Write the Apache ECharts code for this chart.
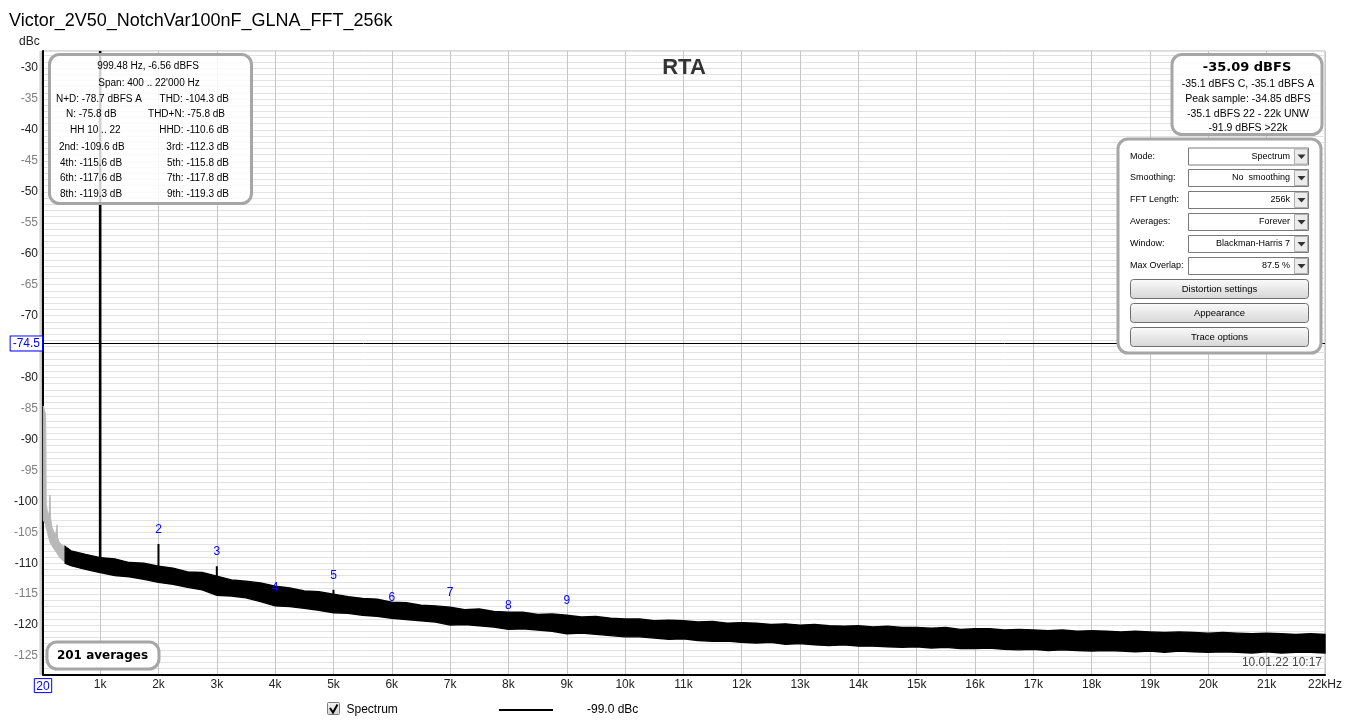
<!DOCTYPE html>
<html>
<head>
<meta charset="utf-8">
<script src="https://cdn.jsdelivr.net/npm/echarts@6/dist/echarts.min.js"></script>
<style>
html,body{margin:0;padding:0;background:#fff;}
#chart{width:1346px;height:724px;}
</style>
</head>
<body>
<div id="chart"></div>
<script>
// ---------- DATA ----------
const TITLE = 'Victor_2V50_NotchVar100nF_GLNA_FFT_256k';
const X_TICKS = [20,1000,2000,3000,4000,5000,6000,7000,8000,9000,10000,11000,12000,13000,14000,15000,16000,17000,18000,19000,20000,21000,22000];
const X_MIN = 20, X_MAX = 22000;
const Y_MIN = -128, Y_MAX = -27.25;
const REF_LEVEL = -74.5;

// noise floor envelope (Hz, dBc)
const FREQ = [400,500,750,1000,1250,1500,1750,2000,2250,2500,
  2750,3000,3250,3500,3750,4000,4250,4500,4750,5000,
  5250,5500,5750,6000,6250,6500,6750,7000,7250,7500,
  7750,8000,8250,8500,8750,9000,9250,9500,9750,10000,
  10250,10500,10750,11000,11250,11500,11750,12000,12250,12500,
  12750,13000,13250,13500,13750,14000,14250,14500,14750,15000,
  15250,15500,15750,16000,16250,16500,16750,17000,17250,17500,
  17750,18000,18250,18500,18750,19000,19250,19500,19750,20000,
  20250,20500,20750,21000,21250,21500,21750,22000];
const UPPER = [-107.3,-108.0,-108.6,-109.1,-109.3,-109.9,-110.0,-110.5,-110.8,-111.4,
  -111.5,-112.1,-112.7,-112.9,-113.2,-113.7,-114.0,-114.5,-114.6,-115.0,
  -115.4,-115.7,-115.8,-116.3,-116.4,-116.8,-116.9,-117.1,-117.5,-117.4,
  -117.8,-117.9,-117.9,-118.3,-118.2,-118.4,-118.7,-118.6,-118.9,-119.0,
  -119.0,-119.3,-119.2,-119.3,-119.5,-119.4,-119.7,-119.6,-119.7,-119.9,
  -119.8,-120.0,-119.9,-120.1,-120.2,-120.1,-120.3,-120.2,-120.4,-120.4,
  -120.5,-120.4,-120.7,-120.6,-120.6,-120.8,-120.7,-120.8,-120.9,-120.8,
  -121.0,-120.9,-121.0,-121.1,-121.0,-121.1,-121.2,-121.1,-121.2,-121.3,
  -121.2,-121.3,-121.4,-121.3,-121.4,-121.5,-121.4,-121.5];
const LOWER = [-110.0,-110.4,-111.0,-111.5,-112.0,-112.2,-112.6,-113.1,-113.4,-113.9,
  -114.3,-115.2,-115.3,-115.6,-116.2,-116.9,-117.0,-117.3,-117.6,-118.0,
  -118.1,-118.4,-118.6,-118.9,-119.1,-119.3,-119.5,-120.0,-119.9,-120.1,
  -120.3,-120.7,-120.6,-120.8,-121.0,-121.4,-121.3,-121.5,-121.7,-121.9,
  -121.9,-122.1,-122.3,-122.2,-122.5,-122.6,-122.6,-122.8,-122.9,-122.8,
  -123.1,-123.0,-123.2,-123.3,-123.2,-123.4,-123.4,-123.5,-123.6,-123.5,
  -123.7,-123.6,-123.8,-123.8,-123.7,-123.9,-124.0,-123.9,-124.1,-124.0,
  -124.1,-124.2,-124.1,-124.2,-124.3,-124.2,-124.4,-124.2,-124.3,-124.4,
  -124.3,-124.4,-124.5,-124.3,-124.5,-124.4,-124.4,-124.5];

// excluded low-frequency part (grey)
const GRAY_FREQ  = [25,65,75,90,110,130,140,150,175,200,230,255,260,270,300,340,380,400];
const GRAY_UPPER = [-84.6,-86.0,-100.5,-101.4,-102.4,-101.5,-99.0,-102.8,-104.2,-104.8,-105.5,-104.5,-103.8,-105.9,-106.6,-107.0,-107.3,-107.4];
const GRAY_LOWER = [-103.0,-103.8,-104.4,-104.8,-105.6,-106.3,-106.6,-106.8,-107.2,-107.6,-108.0,-108.3,-108.4,-108.6,-109.0,-109.4,-109.7,-109.8];

// fundamental + harmonic spikes
const SPIKE_FREQ = [1000,2000,3000,5000,7000];
const SPIKE_BASE = [-111.4,-112.9,-114.8,-117.8,-119.7];
const SPIKE_PEAK = [Y_MAX,-106.9,-110.5,-114.3,-117.1];

// harmonic markers
const HARM_NUM   = ['2','3','4','5','6','7','8','9'];
const HARM_FREQ  = [2000,3000,4000,5000,6000,7000,8000,9000];
const HARM_LABEL = [-104.6,-108.2,-114.0,-112.1,-115.5,-114.7,-116.9,-116.1];

// ---------- CHART ----------
const FONT = 'Arial, "Liberation Sans", sans-serif';
const chart = echarts.init(document.getElementById('chart'), null, {renderer:'canvas'});

function txt(x, y, text, opts) {
  opts = opts || {};
  return {
    type:'text', x:x, y:y, z:100, silent:true,
    style: Object.assign({text:text, fill:'#000', font:'10px ' + FONT, align:'left', verticalAlign:'middle'}, opts)
  };
}
function box(x, y, w, h, r, fill) {
  return {type:'rect', z:99, silent:true, shape:{x:x,y:y,width:w,height:h,r:r},
    style:{fill:fill, stroke:'#a6a6a6', lineWidth:3}};
}

const graphics = [];
// shadow strip left of the value axis
graphics.push({type:'rect', z:1, silent:true, shape:{x:39,y:51,width:3,height:624},
  style:{fill:new echarts.graphic.LinearGradient(0,0,1,0,[{offset:0,color:'#ededed'},{offset:1,color:'#bdbdbd'}])}});
// top-left info box
graphics.push(box(49.5, 54.5, 202, 149, 10, 'rgba(255,255,255,0.82)'));
graphics.push(txt(148, 66, '999.48 Hz, -6.56 dBFS', {align:'center'}));
graphics.push(txt(149, 83, "Span: 400 .. 22'000 Hz", {align:'center'}));
const leftCol = [['N+D: -78.7 dBFS A',56],['N: -75.8 dB',66],['HH 10 .. 22',70],['2nd: -109.6 dB',59],['4th: -115.6 dB',60],['6th: -117.6 dB',60],['8th: -119.3 dB',60]];
const rightCol = [['THD: -104.3 dB',229],['THD+N: -75.8 dB',225],['HHD: -110.6 dB',229],['3rd: -112.3 dB',229],['5th: -115.8 dB',229],['7th: -117.8 dB',229],['9th: -119.3 dB',229]];
const rowY = [99.5,114,130,147.5,163,178.5,194.5];
rowY.forEach((y,i)=>{
  graphics.push(txt(leftCol[i][1], y, leftCol[i][0]));
  graphics.push(txt(rightCol[i][1], y, rightCol[i][0], {align:'right'}));
});
// top-right level box
graphics.push(box(1172, 54.5, 150, 80, 10, 'rgba(255,255,255,0.85)'));
graphics.push(txt(1247, 68, '-35.09 dBFS', {align:'center', font:'bold 13px "DejaVu Sans", ' + FONT}));
graphics.push(txt(1248, 84, '-35.1 dBFS C, -35.1 dBFS A', {align:'center', font:'10.5px ' + FONT}));
graphics.push(txt(1248, 99, 'Peak sample: -34.85 dBFS', {align:'center', font:'10.5px ' + FONT}));
graphics.push(txt(1248, 114, '-35.1 dBFS 22 - 22k UNW', {align:'center', font:'10.5px ' + FONT}));
graphics.push(txt(1248, 128, '-91.9 dBFS >22k', {align:'center', font:'10.5px ' + FONT}));

// control panel
graphics.push(box(1118, 139, 203, 214, 10, '#ffffff'));
const ctrlLabels = ['Mode:','Smoothing:','FFT Length:','Averages:','Window:','Max Overlap:'];
const ctrlValues = ['Spectrum','No  smoothing','256k','Forever','Blackman-Harris 7','87.5 %'];
const ctrlY = [156.5,178,200,222,244,266];
ctrlY.forEach((cy,i)=>{
  graphics.push(txt(1130, cy, ctrlLabels[i], {font:'9px ' + FONT}));
  graphics.push({type:'rect', z:100, silent:true, shape:{x:1188.5,y:cy-8.5,width:120,height:17},
    style:{fill:'#fff', stroke:'#7a7a7a', lineWidth:1}});
  graphics.push({type:'rect', z:101, silent:true, shape:{x:1294.5,y:cy-7.5,width:13,height:15},
    style:{fill:'#ececec', stroke:'#b0b0b0', lineWidth:1}});
  graphics.push({type:'polygon', z:102, silent:true, shape:{points:[[1297.5,cy-2],[1305.5,cy-2],[1301.5,cy+2.5]]},
    style:{fill:'#333'}});
  graphics.push(txt(1290, cy, ctrlValues[i], {align:'right', font:'9px ' + FONT}));
});
const btnLabels = ['Distortion settings','Appearance','Trace options'];
const btnY = [279,303,327];
btnY.forEach((by,i)=>{
  graphics.push({type:'rect', z:100, silent:true, shape:{x:1130.5,y:by+0.5,width:178,height:19,r:3},
    style:{fill:new echarts.graphic.LinearGradient(0,0,0,1,[{offset:0,color:'#fbfbfb'},{offset:1,color:'#d6d6d6'}]), stroke:'#6e6e6e', lineWidth:1}});
  graphics.push(txt(1219.5, by+10, btnLabels[i], {align:'center', font:'9.5px ' + FONT}));
});

// averages box
graphics.push(box(47, 642, 112, 27, 10, 'rgba(255,255,255,0.9)'));
graphics.push(txt(102.5, 656, '201 averages', {align:'center', font:'bold 12px "DejaVu Sans", ' + FONT}));

// date stamp
graphics.push(txt(1322, 663, '10.01.22 10:17', {align:'right', font:'12px ' + FONT, fill:'#444'}));

// axis unit
graphics.push(txt(19, 42, 'dBc', {font:'12px ' + FONT, fill:'#222'}));
// RTA
graphics.push(txt(684, 68, 'RTA', {align:'center', font:'bold 22px ' + FONT, fill:'#333'}));

// legend row
graphics.push({type:'rect', z:100, silent:true, shape:{x:327.5,y:702.5,width:12,height:12,r:1},
  style:{fill:new echarts.graphic.LinearGradient(0,0,0,1,[{offset:0,color:'#f4f4f4'},{offset:1,color:'#d4d4d4'}]), stroke:'#7a7a7a', lineWidth:1}});
graphics.push({type:'polyline', z:101, silent:true, shape:{points:[[330,708],[333,712.5],[337.5,704.5]]},
  style:{stroke:'#000', lineWidth:2, fill:null}});
graphics.push(txt(346.5, 710, 'Spectrum', {font:'12px ' + FONT}));
graphics.push({type:'line', z:100, silent:true, shape:{x1:499,y1:710,x2:553,y2:710}, style:{stroke:'#000', lineWidth:2}});
graphics.push(txt(587, 710, '-99.0 dBc', {font:'12px ' + FONT}));

const option = {
  animation:false,
  backgroundColor:'#ffffff',
  title:{text:TITLE, left:4, top:7, textStyle:{fontFamily:FONT, fontSize:18, fontWeight:'normal', color:'#000'}},
  grid:{left:43, right:21, top:51, bottom:49.4, show:true, borderColor:'#b5b5b5', borderWidth:1, backgroundColor:'#fff'},
  xAxis:{
    type:'value', min:X_MIN, max:X_MAX,
    axisLine:{onZero:false, lineStyle:{color:'#000', width:2}},
    axisTick:{show:false, customValues:X_TICKS},
    axisLabel:{
      customValues:X_TICKS, margin:4, color:'#222', fontFamily:FONT, fontSize:12,
      formatter:function(v){ if (v===20) return '{b|20}'; if (v===22000) return '22kHz'; return (v/1000)+'k'; },
      rich:{b:{color:'#0000ff', borderColor:'#0000ff', borderWidth:1, padding:[2,2,0,2], fontFamily:FONT, fontSize:12}}
    },
    splitLine:{show:true, lineStyle:{color:'#c6c6c6', width:1}}
  },
  yAxis:{
    type:'value', min:Y_MIN, max:Y_MAX, interval:1,
    axisLine:{show:true, onZero:false, lineStyle:{color:'#000', width:2}},
    axisTick:{show:false},
    axisLabel:{
      margin:5, fontFamily:FONT, fontSize:12,
      formatter:function(v){
        if (Math.abs(v - Math.round(v)) > 1e-6) return '';
        v = Math.round(v);
        if (v % 5 !== 0) return '';
        return (v % 10 === 0) ? '{d|' + v + '}' : '{l|' + v + '}';
      },
      rich:{d:{color:'#222', fontFamily:FONT, fontSize:12}, l:{color:'#808080', fontFamily:FONT, fontSize:12}}
    },
    splitLine:{show:true, lineStyle:{color:'#e2e2e2', width:1}}
  },
  graphic:graphics,
  series:[
    {
      name:'Excluded', type:'custom', z:3,
      data:[[GRAY_FREQ[0], GRAY_UPPER[0]]],
      renderItem:function(params, api){
        const pts = [];
        for (let i=0;i<GRAY_FREQ.length;i++) pts.push(api.coord([GRAY_FREQ[i], GRAY_UPPER[i]]));
        for (let i=GRAY_FREQ.length-1;i>=0;i--) pts.push(api.coord([GRAY_FREQ[i], GRAY_LOWER[i]]));
        return {type:'polygon', shape:{points:pts}, style:{fill:'#b8b8b8', stroke:'#b8b8b8', lineWidth:1}};
      }
    },
    {
      name:'Spectrum', type:'custom', z:4,
      data:[[FREQ[0], UPPER[0]]],
      renderItem:function(params, api){
        const pts = [];
        for (let i=0;i<FREQ.length;i++) pts.push(api.coord([FREQ[i], UPPER[i]]));
        for (let i=FREQ.length-1;i>=0;i--) pts.push(api.coord([FREQ[i], LOWER[i]]));
        return {type:'polygon', shape:{points:pts}, style:{fill:'#000', stroke:'#000', lineWidth:1.4}};
      },
      markLine:{
        silent:true, symbol:['none','none'], animation:false,
        lineStyle:{color:'#000', width:1, type:'solid'},
        data:[{yAxis:REF_LEVEL}],
        label:{show:true, position:'start', distance:1, formatter:'-74.5',
          color:'#0000ff', fontFamily:FONT, fontSize:12, backgroundColor:'#fff',
          borderColor:'#0000ff', borderWidth:1, padding:[2,2,0,2]}
      }
    },
    {
      name:'Peaks', type:'custom', z:5,
      data:SPIKE_FREQ.map((f,i)=>[f, SPIKE_BASE[i], SPIKE_PEAK[i]]),
      renderItem:function(params, api){
        const f = api.value(0);
        const a = api.coord([f, api.value(1)]);
        const b = api.coord([f, api.value(2)]);
        return {type:'line', shape:{x1:a[0],y1:a[1],x2:b[0],y2:b[1]},
          style:{stroke:'#000', lineWidth: f===1000 ? 2.6 : 2}};
      }
    },
    {
      name:'Harmonics', type:'custom', z:6,
      data:HARM_FREQ.map((f,i)=>[f, HARM_LABEL[i]]),
      renderItem:function(params, api){
        const p = api.coord([api.value(0), api.value(1)]);
        return {type:'text', x:p[0], y:p[1],
          style:{text:HARM_NUM[params.dataIndex], fill:'#0000ff', font:'12px ' + FONT, align:'center', verticalAlign:'middle'}};
      }
    }
  ]
};
chart.setOption(option);
</script>
</body>
</html>
